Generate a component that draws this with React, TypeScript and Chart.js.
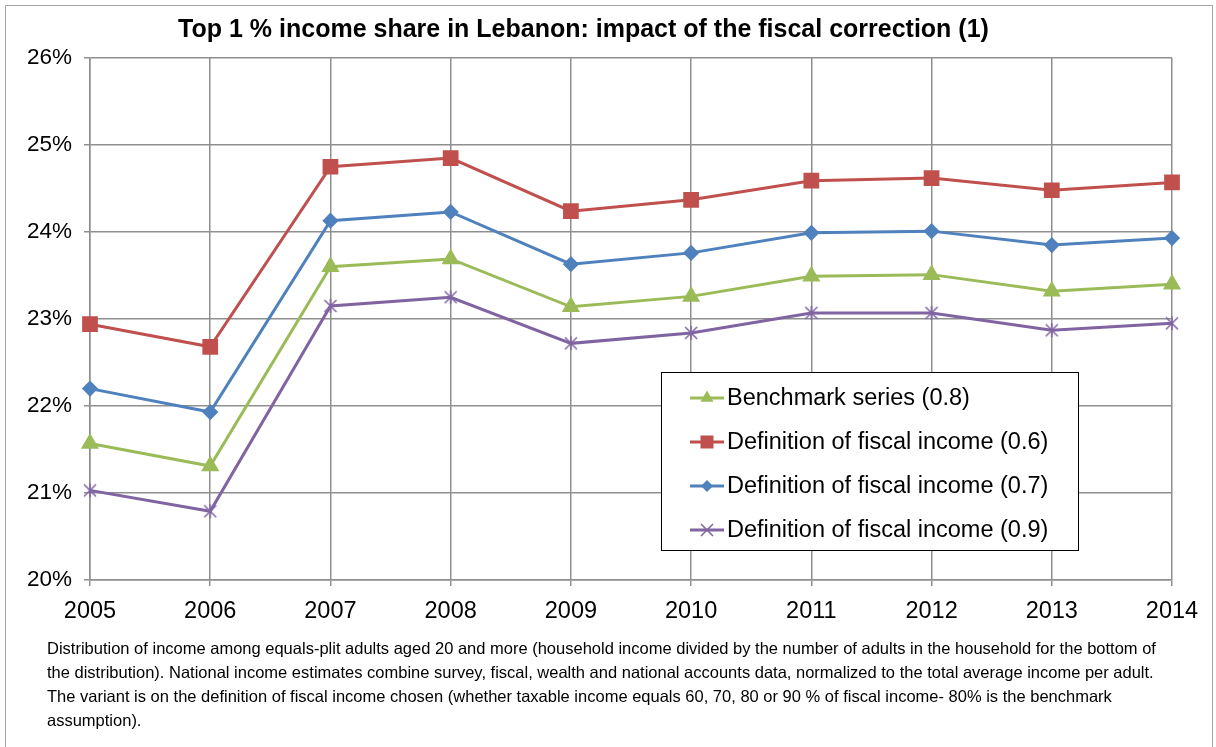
import React, { useEffect, useRef } from "react";
import { Chart, registerables } from "chart.js";

Chart.register(...registerables);

const years = ["2005", "2006", "2007", "2008", "2009", "2010", "2011", "2012", "2013", "2014"];
const benchmark08 = [21.57, 21.31, 23.6, 23.69, 23.14, 23.26, 23.49, 23.51, 23.32, 23.4];
const fiscal06 = [22.94, 22.68, 24.75, 24.85, 24.24, 24.37, 24.59, 24.62, 24.48, 24.57];
const fiscal07 = [22.2, 21.93, 24.13, 24.23, 23.63, 23.76, 23.99, 24.01, 23.85, 23.93];
const fiscal09 = [21.03, 20.79, 23.15, 23.25, 22.72, 22.84, 23.07, 23.07, 22.87, 22.95];
const seriesNames = [
  "Benchmark series (0.8)",
  "Definition of fiscal income (0.6)",
  "Definition of fiscal income (0.7)",
  "Definition of fiscal income (0.9)",
];
const titleText = "Top 1 % income share in Lebanon: impact of the fiscal correction (1)";
const noteLines = [
  "Distribution of income among equals-plit adults aged 20 and more (household income divided by the number of adults in the household for the bottom of",
  "the distribution). National income estimates combine survey, fiscal, wealth and national accounts data, normalized to the total average income per adult.",
  "The variant is on the definition of fiscal income chosen (whether taxable income equals 60, 70, 80 or 90 % of fiscal income- 80% is the benchmark",
  "assumption).",
];

const GREEN = "#9BBB59";
const RED = "#C0504D";
const BLUE = "#4F81BD";
const PURPLE = "#8064A2";
const FONT = "Liberation Sans, Arial, sans-serif";

function drawMarker(ctx: CanvasRenderingContext2D, kind: string, x: number, y: number, color: string) {
  ctx.save();
  ctx.fillStyle = color;
  ctx.strokeStyle = color;
  ctx.beginPath();
  if (kind === "triangle") {
    const r = 7.5;
    ctx.moveTo(x, y - r);
    ctx.lineTo(x + r * 0.866, y + r * 0.5);
    ctx.lineTo(x - r * 0.866, y + r * 0.5);
    ctx.closePath();
    ctx.fill();
  } else if (kind === "rect") {
    ctx.rect(x - 6.5, y - 6.5, 13, 13);
    ctx.fill();
  } else if (kind === "diamond") {
    const r = 6;
    ctx.moveTo(x, y - r);
    ctx.lineTo(x + r, y);
    ctx.lineTo(x, y + r);
    ctx.lineTo(x - r, y);
    ctx.closePath();
    ctx.fill();
  } else {
    const r = 6;
    ctx.lineWidth = 1.5;
    ctx.moveTo(x - r, y - r);
    ctx.lineTo(x + r, y + r);
    ctx.moveTo(x + r, y - r);
    ctx.lineTo(x - r, y + r);
    ctx.stroke();
  }
  ctx.restore();
}

function makeStar(color: string): HTMLCanvasElement {
  const c = document.createElement("canvas");
  c.width = 16;
  c.height = 16;
  const g = c.getContext("2d")!;
  g.strokeStyle = color;
  g.lineWidth = 1.5;
  g.beginPath();
  g.moveTo(2, 2);
  g.lineTo(14, 14);
  g.moveTo(14, 2);
  g.lineTo(2, 14);
  g.moveTo(8, 1);
  g.lineTo(8, 15);
  g.stroke();
  return c;
}

const legendPlugin = {
  id: "boxLegend",
  afterDraw(chart: any) {
    const ctx = chart.ctx as CanvasRenderingContext2D;
    ctx.save();
    ctx.fillStyle = "#ffffff";
    ctx.fillRect(661, 372, 417, 178);
    ctx.strokeStyle = "#000000";
    ctx.lineWidth = 1;
    ctx.strokeRect(661.5, 372.5, 417, 178);
    const colors = [GREEN, RED, BLUE, PURPLE];
    const kinds = ["triangle", "rect", "diamond", "cross"];
    ctx.font = `23.5px ${FONT}`;
    ctx.textBaseline = "middle";
    ctx.textAlign = "left";
    seriesNames.forEach((name, i) => {
      const y = 398 + i * 44;
      ctx.strokeStyle = colors[i];
      ctx.lineWidth = 3;
      ctx.beginPath();
      ctx.moveTo(690, y);
      ctx.lineTo(724, y);
      ctx.stroke();
      drawMarker(ctx, kinds[i], 707, y, colors[i]);
      ctx.fillStyle = "#000000";
      ctx.fillText(name, 727, y + 1);
    });
    ctx.restore();
  },
};

export default function App() {
  const ref = useRef<HTMLCanvasElement | null>(null);
  useEffect(() => {
    if (!ref.current) return;
    const star = makeStar(PURPLE);
    const chart = new Chart(ref.current, {
      type: "line",
      data: {
        labels: years,
        datasets: [
          { label: seriesNames[0], data: benchmark08, borderColor: GREEN, backgroundColor: GREEN, pointStyle: "triangle", pointRadius: 7.5, borderWidth: 3 },
          { label: seriesNames[1], data: fiscal06, borderColor: RED, backgroundColor: RED, pointStyle: "rect", pointRadius: 9, borderWidth: 3 },
          { label: seriesNames[2], data: fiscal07, borderColor: BLUE, backgroundColor: BLUE, pointStyle: "rectRot", pointRadius: 6, borderWidth: 3 },
          { label: seriesNames[3], data: fiscal09, borderColor: PURPLE, backgroundColor: PURPLE, pointStyle: star as any, pointRadius: 8, borderWidth: 3 },
        ],
      },
      options: {
        responsive: false,
        animation: false,
        layout: { padding: { top: 58, right: 44, bottom: 127, left: 0 } },
        plugins: { legend: { display: false }, title: { display: false }, tooltip: { enabled: false } },
        elements: { line: { tension: 0 }, point: { borderWidth: 0 } },
        scales: {
          x: {
            offset: false,
            afterFit: (s: any) => { s.height = 40; },
            grid: { color: "#8f8f8f", lineWidth: 1.5, tickLength: 6, drawTicks: true },
            border: { color: "#8f8f8f", width: 1.5 },
            ticks: { color: "#000", font: { family: FONT, size: 23.5 }, padding: 11, maxRotation: 0, autoSkip: false },
          },
          y: {
            min: 20,
            max: 26,
            afterFit: (s: any) => { s.width = 90; },
            grid: { color: "#8f8f8f", lineWidth: 1.5, tickLength: 6 },
            border: { color: "#8f8f8f", width: 1.5 },
            ticks: { stepSize: 1, color: "#000", font: { family: FONT, size: 22.5 }, padding: 12, callback: (v: any) => `${v}%` },
          },
        },
      },
      plugins: [legendPlugin],
    });
    return () => chart.destroy();
  }, []);

  return (
    <div style={{ position: "absolute", left: 0, top: 0, width: 1216, height: 747, background: "#fff", overflow: "hidden" }}>
      <div style={{ position: "absolute", left: 5, top: 5, width: 1208, height: 760, border: "1.5px solid #a6a6a6", boxSizing: "border-box" }} />
      <canvas ref={ref} width={1216} height={747} style={{ position: "absolute", left: 0, top: 0 }} />
      <div style={{ position: "absolute", left: 0, top: 13, width: 1167, textAlign: "center", fontFamily: FONT, fontWeight: "bold", fontSize: 25, lineHeight: "30px", color: "#000" }}>
        {titleText}
      </div>
      <div style={{ position: "absolute", left: 47, top: 636, fontFamily: FONT, fontSize: 16.5, lineHeight: "24px", color: "#000", whiteSpace: "nowrap" }}>
        {noteLines.map((l, i) => (
          <div key={i}>{l}</div>
        ))}
      </div>
    </div>
  );
}
